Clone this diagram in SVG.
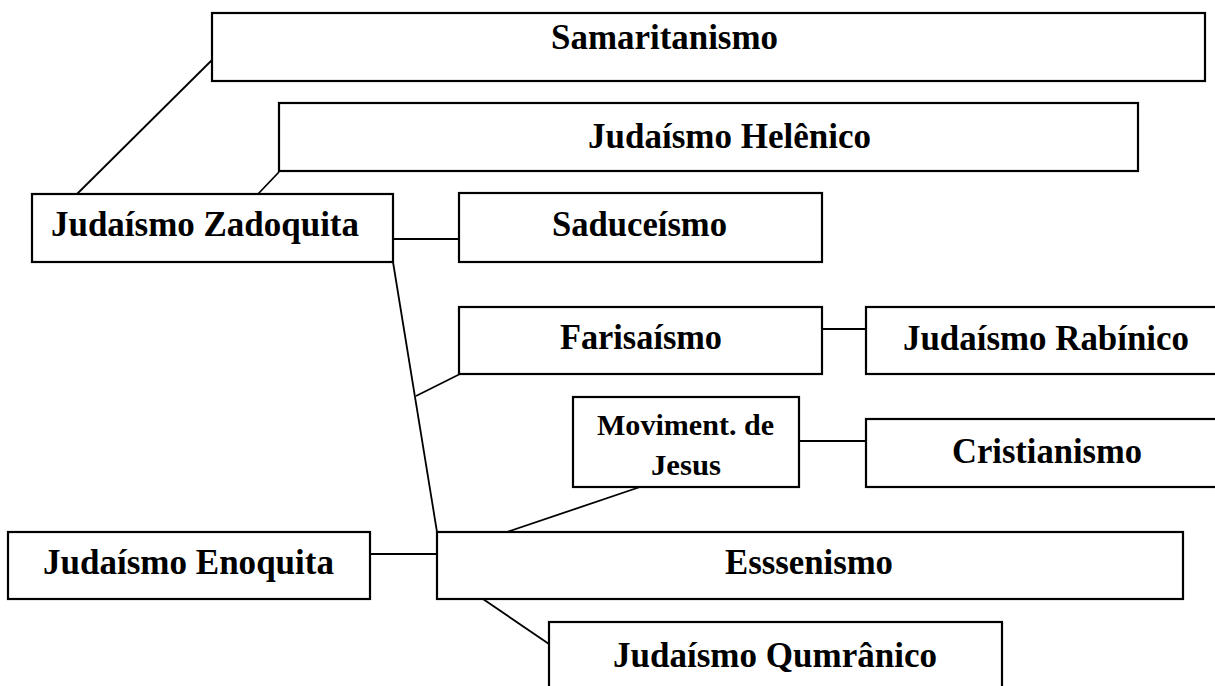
<svg xmlns="http://www.w3.org/2000/svg" width="1215" height="686" viewBox="0 0 1215 686">
<style>
.box{fill:#fff;stroke:#000;stroke-width:2.2}
.t{font-family:"Liberation Serif","Times New Roman",serif;font-weight:bold;font-size:35px;fill:#000}
.s{font-size:30px}
.c{stroke:#000;stroke-width:1.8;fill:none}
</style>
<rect width="1215" height="686" fill="#fff"/>
<g id="connectors">
<line class="c" x1="212" y1="60" x2="77" y2="194"/>
<line class="c" x1="279" y1="172" x2="258" y2="194"/>
<line class="c" x1="393" y1="239" x2="459" y2="239"/>
<line class="c" x1="393" y1="262" x2="437" y2="532"/>
<line class="c" x1="460" y1="374" x2="416" y2="396"/>
<line class="c" x1="822" y1="329" x2="866" y2="329"/>
<line class="c" x1="799" y1="441" x2="866" y2="441"/>
<line class="c" x1="640" y1="487" x2="507" y2="532"/>
<line class="c" x1="370" y1="554" x2="437" y2="554"/>
<line class="c" x1="483" y1="599" x2="549" y2="644"/>
</g>
<g id="samaritanismo">
<rect class="box" x="212" y="13" width="993" height="68"/>
<text class="t" x="551" y="49" textLength="227" lengthAdjust="spacingAndGlyphs">Samaritanismo</text>
</g>
<g id="helenico">
<rect class="box" x="279" y="103" width="859" height="68"/>
<text class="t" x="588" y="148" textLength="283" lengthAdjust="spacingAndGlyphs">Judaísmo Helênico</text>
</g>
<g id="zadoquita">
<rect class="box" x="32" y="194" width="361" height="68"/>
<text class="t" x="51" y="236" textLength="308" lengthAdjust="spacingAndGlyphs">Judaísmo Zadoquita</text>
</g>
<g id="saduceismo">
<rect class="box" x="459" y="193" width="363" height="69"/>
<text class="t" x="552" y="236" textLength="175" lengthAdjust="spacingAndGlyphs">Saduceísmo</text>
</g>
<g id="farisaismo">
<rect class="box" x="459" y="307" width="363" height="67"/>
<text class="t" x="560" y="349" textLength="162" lengthAdjust="spacingAndGlyphs">Farisaísmo</text>
</g>
<g id="rabinico">
<rect class="box" x="866" y="307" width="370" height="67"/>
<text class="t" x="903" y="350" textLength="286" lengthAdjust="spacingAndGlyphs">Judaísmo Rabínico</text>
</g>
<g id="movimento-jesus">
<rect class="box" x="573" y="397" width="226" height="90"/>
<text class="t s" x="597" y="435" textLength="177" lengthAdjust="spacingAndGlyphs">Moviment. de</text>
<text class="t s" x="651" y="475" textLength="70" lengthAdjust="spacingAndGlyphs">Jesus</text>
</g>
<g id="cristianismo">
<rect class="box" x="866" y="419" width="370" height="68"/>
<text class="t" x="952" y="463" textLength="190" lengthAdjust="spacingAndGlyphs">Cristianismo</text>
</g>
<g id="enoquita">
<rect class="box" x="8" y="532" width="362" height="67"/>
<text class="t" x="43" y="574" textLength="291" lengthAdjust="spacingAndGlyphs">Judaísmo Enoquita</text>
</g>
<g id="essenismo">
<rect class="box" x="437" y="532" width="746" height="67"/>
<text class="t" x="725" y="574" textLength="168" lengthAdjust="spacingAndGlyphs">Esssenismo</text>
</g>
<g id="qumranico">
<rect class="box" x="549" y="622" width="453" height="90"/>
<text class="t" x="613" y="667" textLength="324" lengthAdjust="spacingAndGlyphs">Judaísmo Qumrânico</text>
</g>
</svg>
